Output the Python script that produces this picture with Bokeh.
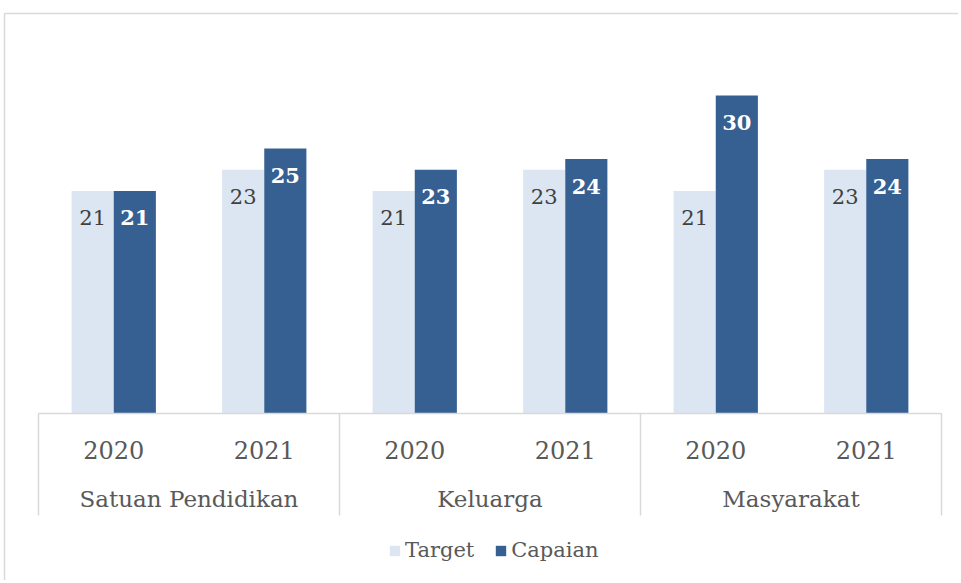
from bokeh.plotting import figure
from bokeh.models import ColumnDataSource, Range1d, Legend, LegendItem
from bokeh.core.properties import value
from bokeh.embed import file_html
from bokeh.resources import INLINE

# ---- data ----
groups = ["Satuan Pendidikan", "Keluarga", "Masyarakat"]
years = ["2020", "2021"]
series = ["Target", "Capaian"]
target = [21, 23, 21, 23, 21, 23]
capaian = [21, 25, 23, 24, 30, 24]

# ---- style ----
C_TARGET = "#dce6f2"
C_CAPAIAN = "#376092"
GRID = "#d9d9d9"
TXT = "#595959"
FONT = "DejaVu Serif"
BAR_W = 0.28

n_years = len(years)
slot_x = [g * n_years + y + 0.5 for g in range(len(groups)) for y in range(n_years)]
slot_year = [years[y] for g in range(len(groups)) for y in range(n_years)]
group_x = [g * n_years + n_years / 2 for g in range(len(groups))]
sep_x = [g * n_years for g in range(len(groups) + 1)]

src = ColumnDataSource(dict(
    x=slot_x,
    xt=[x - BAR_W / 2 for x in slot_x],
    xc=[x + BAR_W / 2 for x in slot_x],
    target=target,
    capaian=capaian,
    tlab=[str(v) for v in target],
    clab=[str(v) for v in capaian],
    year=slot_year,
))

W, H = 958, 580
PX_X = 150.5   # pixels per slot
PX_Y = 10.6    # pixels per unit
x0 = -38 / PX_X
x1 = x0 + W / PX_X
y1 = 413 / PX_Y
y0 = y1 - H / PX_Y

p = figure(width=W, height=H, output_backend="svg", toolbar_location=None,
           x_range=Range1d(x0, x1), y_range=Range1d(y0, y1),
           x_axis_type=None, y_axis_type=None, min_border=0)
p.grid.visible = False
p.outline_line_color = None
p.background_fill_color = "white"
p.border_fill_color = "white"

# chart border (top and left)
bx = x0 + 4 / PX_X
by = y1 - 13 / PX_Y
p.segment(x0=[bx, bx], x1=[x1, bx], y0=[by, by], y1=[by, y0],
          line_color=GRID, line_width=1.5)

r_t = p.vbar(x="xt", top="target", bottom=0, width=BAR_W, source=src,
             fill_color=C_TARGET, line_color=None)
r_c = p.vbar(x="xc", top="capaian", bottom=0, width=BAR_W, source=src,
             fill_color=C_CAPAIAN, line_color=None)

# value labels
p.text(x="xt", y="target", text="tlab", source=src, text_align="center",
       text_baseline="middle", y_offset=27, text_font=value(FONT),
       text_font_size="21px", text_color="#404040")
p.text(x="xc", y="capaian", text="clab", source=src, text_align="center",
       text_baseline="middle", y_offset=27, text_font=value(FONT),
       text_font_size="21px", text_color="white", text_font_style="bold")

# axis line and separators
p.segment(x0=sep_x[0], x1=sep_x[-1], y0=0, y1=0, line_color=GRID, line_width=1.5)
p.segment(x0=sep_x, x1=sep_x, y0=[0] * len(sep_x), y1=[-9.62] * len(sep_x),
          line_color=GRID, line_width=1.5)

# category labels
p.text(x="x", y=-3.4, text="year", source=src, text_align="center",
       text_baseline="middle", text_font=value(FONT), text_font_size="24px",
       text_color=TXT)
p.text(x=group_x, y=[-8.11] * len(group_x), text=groups, text_align="center",
       text_baseline="middle", text_font=value(FONT), text_font_size="23px",
       text_color=TXT)

legend = Legend(items=[LegendItem(label=series[0], renderers=[r_t]),
                       LegendItem(label=series[1], renderers=[r_c])],
                orientation="horizontal", location=(388, 18),
                glyph_width=13, glyph_height=13, label_standoff=4, spacing=20,
                padding=0, margin=0, border_line_color=None,
                background_fill_alpha=0,
                label_text_font=FONT, label_text_font_size="21px",
                label_text_color=TXT)
p.add_layout(legend)

open("out.html", "w").write(file_html(p, INLINE))
